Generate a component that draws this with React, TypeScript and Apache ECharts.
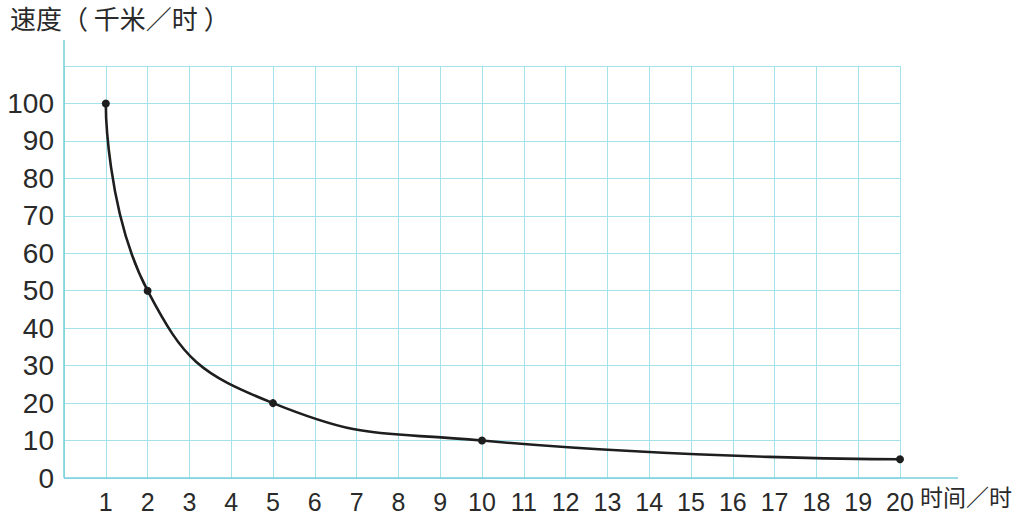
import React, { useEffect, useRef } from "react";
import * as echarts from "echarts";

const times = [1, 2, 5, 10, 20];
const speeds = [100, 50, 20, 10, 5];
const xTickMax = 20;
const yTickMax = 110;
const yTitle = "速度（ 千米／时 ）";
const xTitle = "时间／时";

export default function App() {
  const ref = useRef<HTMLDivElement>(null);
  useEffect(() => {
    if (!ref.current) return;
    const chart = echarts.init(ref.current, null, { renderer: "svg" });
    const gridCol = "#a3e2ea";
    const axisCol = "#78d0dc";
    const labelFont = "'Liberation Sans', Arial, sans-serif";
    chart.setOption({
      animation: false,
      backgroundColor: "#ffffff",
      grid: { left: 64, right: 132, top: 66, bottom: 36, containLabel: false },
      xAxis: {
        type: "value",
        min: 0,
        max: xTickMax,
        interval: 1,
        axisLine: { show: false },
        axisTick: { show: false },
        splitLine: { show: true, lineStyle: { color: gridCol, width: 1 } },
        axisLabel: {
          margin: 11,
          fontSize: 25,
          color: "#2a2a2a",
          fontFamily: labelFont,
          formatter: (v: number) => (v === 0 ? "" : String(v)),
        },
      },
      yAxis: {
        type: "value",
        min: 0,
        max: yTickMax,
        interval: 10,
        axisLine: { show: false },
        axisTick: { show: false },
        splitLine: { show: true, lineStyle: { color: gridCol, width: 1 } },
        axisLabel: {
          margin: 10,
          fontSize: 28,
          color: "#2a2a2a",
          fontFamily: labelFont,
          formatter: (v: number) => (v === yTickMax ? "" : String(v)),
        },
      },
      series: [
        {
          type: "line",
          data: times.map((t, i) => [t, speeds[i]]),
          smooth: 0.5,
          symbol: "circle",
          symbolSize: 8,
          lineStyle: { color: "#1e1e1e", width: 2.6 },
          itemStyle: { color: "#1e1e1e" },
          z: 5,
        },
      ],
    });
    const o = chart.convertToPixel({ gridIndex: 0 }, [0, 0]) as number[];
    const xEnd = chart.convertToPixel({ gridIndex: 0 }, [xTickMax, 0]) as number[];
    const yEnd = chart.convertToPixel({ gridIndex: 0 }, [0, yTickMax]) as number[];
    chart.setOption({
      graphic: [
        {
          type: "line",
          shape: { x1: o[0], y1: o[1], x2: xEnd[0] + 58, y2: o[1] },
          style: { stroke: axisCol, lineWidth: 1.5 },
          z: 3,
        },
        {
          type: "line",
          shape: { x1: o[0], y1: o[1], x2: o[0], y2: yEnd[1] - 26 },
          style: { stroke: axisCol, lineWidth: 1.5 },
          z: 3,
        },
        {
          type: "text",
          left: 10,
          top: 4,
          style: {
            text: yTitle,
            fontSize: 26,
            fill: "#2a2a2a",
            fontFamily: "'Noto Sans CJK SC', sans-serif",
          },
        },
        {
          type: "text",
          x: xEnd[0] + 20,
          y: o[1] + 18,
          style: {
            text: xTitle,
            fontSize: 23,
            lineHeight: 23,
            align: "left",
            verticalAlign: "middle",
            fill: "#2a2a2a",
            fontFamily: "'Noto Sans CJK SC', sans-serif",
          },
        },
      ],
    });
    return () => chart.dispose();
  }, []);
  return (
    <div
      ref={ref}
      style={{ position: "fixed", left: 0, top: 0, width: 1032, height: 514 }}
    />
  );
}
